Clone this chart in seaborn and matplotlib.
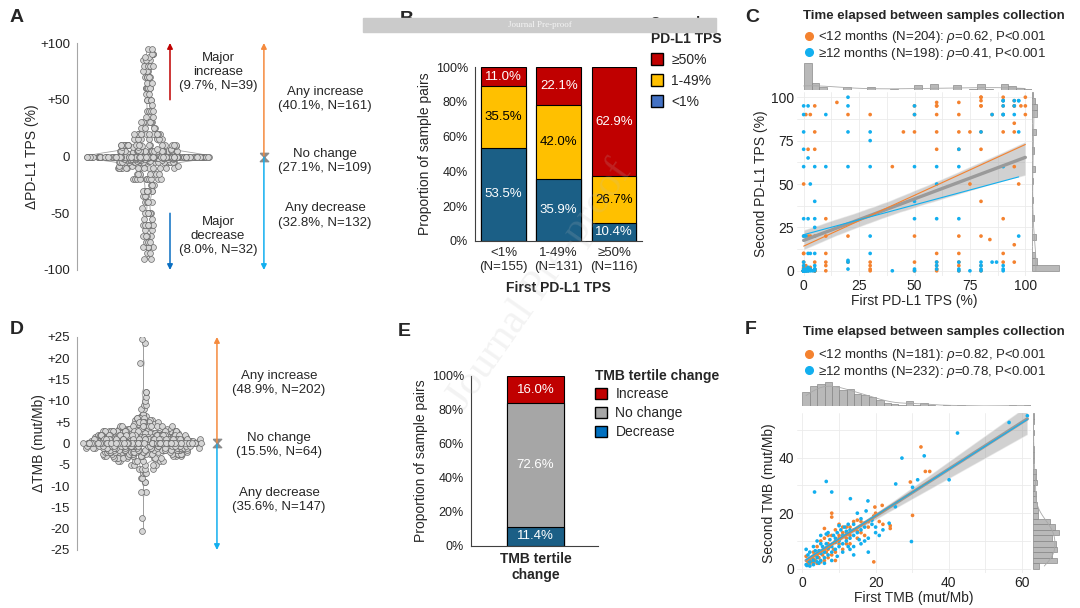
import seaborn as sns
import pandas as pd
import matplotlib.pyplot as plt
import numpy as np
from matplotlib.patches import Patch, Rectangle
from matplotlib.lines import Line2D

sns.set_style('white')
plt.rcParams['font.family'] = ['Liberation Sans', 'DejaVu Sans']
plt.rcParams['mathtext.fontset'] = 'custom'
plt.rcParams['mathtext.it'] = 'Liberation Sans:italic'
plt.rcParams['mathtext.rm'] = 'Liberation Sans'
np.random.seed(7)

# ---------------- data ----------------
# A: change in PD-L1 TPS (value, number of pairs)
tps_delta = [-90, -85, -80, -75, -70, -65, -60, -55, -50,
             -45, -40, -35, -30, -25, -20, -15, -10, -8, -5, -4, -3, -2, -1,
             0,
             1, 2, 3, 4, 5, 6, 7, 8, 9, 10,
             15, 20, 25, 30, 35, 40, 45,
             50, 55, 60, 65, 70, 75, 80, 85, 88, 90, 95]
tps_count = [2, 2, 4, 3, 4, 2, 7, 2, 6,
             1, 4, 3, 8, 4, 10, 7, 14, 3, 18, 3, 5, 8, 12,
             109,
             16, 8, 6, 3, 26, 2, 2, 3, 2, 18,
             7, 12, 4, 6, 2, 4, 1,
             5, 2, 7, 2, 5, 3, 5, 3, 2, 3, 2]

# D: change in TMB (value, number of pairs)
tmb_delta = [-20.5, -17.5, -11.5, -9, -8, -7, -6, -5, -4, -3.5, -3, -2.5, -2, -1.5, -1, -0.5,
             0,
             0.5, 1, 1.5, 2, 2.5, 3, 3.5, 4, 4.5, 5, 5.5, 6, 6.5,
             7, 8, 9, 10, 11, 12, 19, 23.5, 24.5]
tmb_count = [1, 1, 2, 2, 2, 3, 4, 5, 7, 8, 12, 14, 17, 20, 24, 25,
             64,
             28, 30, 25, 22, 18, 16, 12, 10, 8, 7, 5, 5, 3,
             2, 2, 2, 1, 1, 2, 1, 1, 1]

# B: second PD-L1 TPS category by first category (%)
first_cats = ['<1%\n(N=155)', '1-49%\n(N=131)', '\u226550%\n(N=116)']
second_lt1 = [53.5, 35.9, 10.4]
second_mid = [35.5, 42.0, 26.7]
second_ge50 = [11.0, 22.1, 62.9]

# E: TMB tertile change (%)
tmb_cat = ['TMB tertile\nchange']
tmb_decrease = [11.4]
tmb_nochange = [72.6]
tmb_increase = [16.0]

# C: first / second PD-L1 TPS (%)
c_early_first = [15, 20, 20, 20, 30, 30, 30, 30, 30, 40, 45, 50, 50, 50, 50, 50, 50,
                 60, 60, 60, 60, 60, 60, 60, 60, 60, 60, 70, 70, 70, 70, 70, 70, 70, 70, 75,
                 80, 80, 80, 80, 80, 80, 80, 80, 80, 84, 90, 90, 90, 90, 90, 90,
                 95, 95, 95, 95, 95, 95, 97, 100, 0, 0, 0, 0, 0, 0, 0, 1, 2, 2, 3,
                 5, 5, 5, 5, 5, 5, 10, 10, 10, 10, 10, 10, 3, 1, 2, 98,
                 0, 0, 0, 0, 0, 0, 0, 0, 0, 0, 0, 0, 1, 1, 1, 2, 2, 3, 5, 5, 5, 0, 0, 0, 0,
                 80, 90, 95, 100, 90, 85, 70, 60, 75, 95, 100, 80]
c_early_second = [97, 90, 20, 5, 90, 5, 3, 1, 0, 60, 80, 90, 95, 80, 20, 5, 0,
                  97, 95, 90, 80, 70, 10, 5, 3, 1, 0, 97, 80, 70, 20, 10, 5, 3, 0, 50,
                  100, 98, 95, 80, 70, 40, 20, 3, 0, 18, 98, 90, 80, 30, 10, 5,
                  95, 85, 80, 60, 15, 5, 50, 95, 50, 10, 2, 1, 0, 0, 0, 90, 70, 20, 90,
                  95, 80, 70, 20, 5, 0, 30, 20, 10, 5, 3, 0, 20, 3, 1, 95,
                  0, 0, 0, 0, 0, 0, 0, 0, 0, 0, 0, 0, 0, 1, 0, 0, 1, 2, 0, 1, 0, 5, 10, 20, 1,
                  100, 100, 98, 100, 95, 90, 90, 95, 80, 95, 90, 95]
c_late_first = [20, 20, 20, 20, 20, 20, 20, 30, 30, 30, 30, 30, 40, 50, 50, 50, 50, 50, 50, 50,
                60, 60, 60, 60, 60, 70, 70, 70, 70, 70, 75, 80, 80, 80, 80, 85, 87,
                90, 90, 90, 90, 90, 90, 90, 95, 95, 97, 97, 97,
                0, 0, 0, 0, 0, 0, 0, 0, 0, 0, 0, 2, 2, 2, 2, 2, 3, 3,
                5, 5, 5, 5, 5, 5, 5, 10, 10, 1, 1, 4,
                0, 0, 0, 0, 0, 0, 0, 0, 0, 0, 0, 0, 0, 0, 1, 1, 1, 2, 2, 3, 3, 5, 5,
                90, 95, 97, 80, 70, 60, 90, 85]
c_late_second = [100, 95, 80, 60, 6, 5, 1, 80, 75, 60, 20, 10, 0, 95, 90, 60, 40, 30, 1, 0,
                 50, 30, 5, 3, 1, 60, 30, 5, 1, 0, 0, 5, 3, 1, 0, 5, 5,
                 98, 95, 90, 60, 3, 1, 0, 98, 90, 98, 80, 20,
                 95, 90, 80, 70, 60, 30, 20, 5, 3, 1, 0, 95, 65, 30, 10, 0, 50, 10,
                 60, 40, 30, 25, 10, 3, 1, 90, 60, 0, 20, 0,
                 0, 0, 0, 0, 0, 0, 0, 0, 0, 0, 0, 0, 0, 0, 0, 1, 0, 0, 2, 1, 0, 0, 1,
                 90, 95, 98, 80, 70, 60, 98, 90]

# F: first / second TMB (mut/Mb)
f_early_first = [32.4, 33.6, 34.8, 29.5, 30.1, 19.5, 19.8, 21.8, 19.5, 24, 24, 8, 8, 16, 17, 15,
                 14, 13, 12, 11, 10, 9, 8.5, 7.5, 7, 6.5, 6, 5.5, 5, 4.5, 4, 3.5, 3, 2.5, 2,
                 1.5, 1, 2, 3, 4, 5, 6, 7, 9, 10, 11, 12, 13, 14, 18, 20, 22, 17, 15, 13,
                 11, 9, 8, 7, 6, 5, 3, 10, 12, 16, 18, 21, 6, 9, 4, 8, 7, 10, 12, 15]
f_early_second = [43.8, 35, 35, 31.2, 19.2, 19, 22.2, 22.8, 2.5, 14.5, 15.5, 20, 18.6, 17, 16.5, 17.5,
                  14, 12, 11, 13, 9, 10, 7, 8, 9, 6, 7, 5, 6, 4, 5, 3, 3.5, 2.5, 3,
                  2, 4.5, 1.5, 6, 8, 10, 11, 12, 14, 16, 15, 13, 15, 17, 17, 20, 16, 12, 11, 9,
                  7, 6, 5, 4, 3, 2.5, 2, 12, 9, 13, 15, 17, 14.5, 3, 2, 12, 7, 11, 15, 13.5]
f_late_first = [61.5, 56.5, 42.4, 33.3, 27.2, 40.1, 6.5, 31.5, 3.3, 8, 13.1, 17.9, 25.5, 25.4,
                30.1, 29.8, 23.7, 17.4, 15, 16, 14, 13, 12, 11, 10, 9, 8, 7, 6, 5, 4, 3, 2, 1,
                1.5, 2.5, 3.5, 4.5, 5.5, 6.5, 7.5, 8.5, 9.5, 10.5, 11.5, 12.5, 3, 4, 5, 6, 7, 8,
                9, 10, 11, 12, 13, 14, 15, 16, 17, 18, 19, 20, 21, 22, 2, 3, 1, 4, 5, 2, 1.2,
                6, 8, 14, 16, 18, 20, 19, 14, 9.5, 11, 13, 7, 5, 3.5, 12.5, 15.5, 10, 17, 1.5,
                4.5, 6.5, 9]
f_late_second = [55, 52.6, 48.8, 40.6, 39.8, 32, 31.4, 32, 27.6, 27.6, 25.2, 24.4, 30.5, 22.3,
                 29.3, 9.8, 16.4, 20.8, 20, 18, 16, 14, 13.5, 12, 10, 9.5, 8, 7.5, 6, 5.5, 4, 3,
                 2.5, 1.5, 3, 4, 5, 6.5, 8, 9, 10.5, 12, 13, 14, 15, 16, 1.5, 2.5, 3, 4, 5, 6,
                 7, 8, 9, 10, 11, 12, 13, 14, 10, 11, 16, 13, 12, 14, 6, 8, 7, 10, 12, 1, 1.2,
                 2, 3, 8, 9, 6, 15, 17.5, 5, 4.5, 6, 7, 13, 9, 6.5, 8, 10.5, 15.5, 15, 5,
                 2, 12.5, 11]

c_labels = ['<12 months (N=204): $\\it{\u03c1}$=0.62, P<0.001',
            '\u226512 months (N=198): $\\it{\u03c1}$=0.41, P<0.001']
f_labels = ['<12 months (N=181): $\\it{\u03c1}$=0.82, P<0.001',
            '\u226512 months (N=232): $\\it{\u03c1}$=0.78, P<0.001']

RED, YELLOW, DBLUE = '#C00000', '#FFC000', '#1B5F86'
ORANGE, SKY = '#F4822F', '#12AFEF'

fig = plt.figure(figsize=(10.8, 6.08), dpi=100)


def px_axes(l, t, r, b):
    return fig.add_axes([l / 1080, 1 - b / 608, (r - l) / 1080, (b - t) / 608])


def swarm_panel(ax, vals, counts, spread, ylim, yticks, yticklabels, ylabel):
    d = pd.DataFrame({'delta': np.repeat(vals, counts).astype(float)})
    sns.violinplot(y=d['delta'], ax=ax, color='white', linecolor='#a0a0a0', linewidth=0.6,
                   inner=None, cut=0, bw_adjust=0.35, width=0.82, saturation=1)
    d['spread'] = d['delta'].abs().map(spread)
    for j, grp in d.groupby('spread'):
        sns.stripplot(y=grp['delta'], jitter=j, ax=ax, color='#d6d6d6', edgecolor='#6a6a6a',
                      linewidth=0.5, size=4.2)
    ax.set_ylim(*ylim)
    ax.set_yticks(yticks)
    ax.set_yticklabels(yticklabels, fontsize=9.5, color='#222222')
    ax.set_xticks([])
    ax.set_ylabel(ylabel, fontsize=10, labelpad=1)
    for s in ['top', 'right', 'bottom']:
        ax.spines[s].set_visible(False)
    ax.spines['left'].set_color('#a6a6a6')
    ax.tick_params(axis='y', length=3, color='#a6a6a6', pad=2)
    ax.patch.set_alpha(0)


def arrow(ax, x, y0, y1, col):
    ax.annotate('', xy=(x, y1), xytext=(x, y0),
                arrowprops=dict(arrowstyle='-|>', color=col, lw=1.1, mutation_scale=8,
                                shrinkA=0, shrinkB=0))


HOURGLASS = [(-1, 1), (1, 1), (-1, -1), (1, -1), (-1, 1)]

# ---------------- A ----------------
axA = px_axes(77, 43, 380, 270)
swarm_panel(axA, tps_delta, tps_count,
            lambda v: 0.41 if v == 0 else 0.2 if v <= 10 else 0.1 if v <= 20 else 0.05 if v <= 45 else 0.035,
            (-100, 100), [-100, -50, 0, 50, 100], ['-100', '-50', '0', '+50', '+100'],
            '\u0394PD-L1 TPS (%)')
axA.set_xlim(-0.473, 1.547)
arrow(axA, 0.147, 50, 100, RED)
arrow(axA, 0.147, -50, -100, '#0A6FC2')
arrow(axA, 0.773, 1, 100, '#F58A3D')
arrow(axA, 0.773, -1, -100, SKY)
axA.plot(0.773, 0, marker=HOURGLASS, ms=6, color='#8c8c8c', clip_on=False)
kw = dict(ha='center', va='center', fontsize=9.5, linespacing=1.25)
axA.text(0.467, 74.5, 'Major\nincrease\n(9.7%, N=39)', **kw)
axA.text(0.467, -70, 'Major\ndecrease\n(8.0%, N=32)', **kw)
axA.text(1.18, 50.7, 'Any increase\n(40.1%, N=161)', **kw)
axA.text(1.18, -4, 'No change\n(27.1%, N=109)', **kw)
axA.text(1.18, -52, 'Any decrease\n(32.8%, N=132)', **kw)

# ---------------- D ----------------
axD = px_axes(77, 337, 380, 550)
swarm_panel(axD, tmb_delta, tmb_count,
            lambda v: 0.4 if v == 0 else 0.38 if v <= 1 else 0.32 if v <= 2 else 0.27 if v <= 3
            else 0.2 if v <= 4 else 0.1 if v <= 5 else 0.07 if v <= 6 else 0.02,
            (-25, 25), list(range(-25, 26, 5)),
            [f'{t:+d}' if t > 0 else str(t) for t in range(-25, 26, 5)],
            '\u0394TMB (mut/Mb)')
axD.set_xlim(-0.44, 1.58)
arrow(axD, 0.493, 0.3, 25, '#F58A3D')
arrow(axD, 0.493, -0.3, -25, SKY)
axD.plot(0.493, 0, marker=HOURGLASS, ms=6, color='#8c8c8c', clip_on=False)
axD.text(0.907, 14.2, 'Any increase\n(48.9%, N=202)', **kw)
axD.text(0.907, -0.35, 'No change\n(15.5%, N=64)', **kw)
axD.text(0.907, -13.3, 'Any decrease\n(35.6%, N=147)', **kw)


# ---------------- stacked bars B / E ----------------
def stacked(ax, cats, layers, width, xlim):
    cum = np.zeros(len(cats))
    parts = []
    for vals, col, tcol in layers:
        parts.append((cum.copy(), np.array(vals), col, tcol))
        cum = cum + np.array(vals)
    # draw from the tallest cumulative bar down so every segment shows
    for base, vals, col, tcol in parts[::-1]:
        sns.barplot(x=cats, y=base + vals, color=col, saturation=1, width=width, edgecolor='black',
                    linewidth=0.8, errorbar=None, ax=ax)
    for base, vals, col, tcol in parts:
        for i, v in enumerate(vals):
            ax.text(i, base[i] + v / 2, f'{v:.1f}%', ha='center', va='center', fontsize=9.5,
                    color=tcol)
    ax.set_ylim(0, 100)
    ax.set_xlim(*xlim)
    ax.set_yticks(range(0, 101, 20))
    ax.set_yticklabels([f'{t}%' for t in range(0, 101, 20)], fontsize=9, color='#222222')
    ax.set_ylabel('Proportion of sample pairs', fontsize=10, labelpad=3)
    for s in ['top', 'right']:
        ax.spines[s].set_visible(False)
    for s in ['left', 'bottom']:
        ax.spines[s].set_color('#404040')
        ax.spines[s].set_linewidth(0.8)
    ax.tick_params(axis='y', length=3, color='#404040', pad=2)
    ax.tick_params(axis='x', length=0, pad=4)
    ax.patch.set_alpha(0)


axB = px_axes(475, 67, 642, 241)
stacked(axB, first_cats, [(second_lt1, DBLUE, 'white'), (second_mid, YELLOW, 'black'),
                          (second_ge50, RED, 'white')], 0.81, (-0.515, 2.506))
axB.set_xticks(range(3))
axB.set_xticklabels(first_cats, fontsize=9.5, linespacing=1.25)
axB.set_xlabel('First PD-L1 TPS', fontsize=10, fontweight='bold', labelpad=6)
fig.legend(handles=[Patch(fc=RED, ec='black'), Patch(fc=YELLOW, ec='black'), Patch(fc='#4472C4', ec='black')],
           labels=['\u226550%', '1-49%', '<1%'], loc='upper left', bbox_to_anchor=(645 / 1080, 1 - 10 / 608),
           title='Second\nPD-L1 TPS', title_fontproperties={'weight': 'bold', 'size': 10},
           alignment='left', frameon=False, fontsize=10, handlelength=0.9, handleheight=0.9,
           handletextpad=0.6, labelspacing=0.5, borderaxespad=0)

axE = px_axes(471, 376, 598, 546)
stacked(axE, tmb_cat, [(tmb_decrease, DBLUE, 'white'), (tmb_nochange, '#A6A6A6', 'white'),
                       (tmb_increase, RED, 'white')], 0.8, (-0.908, 0.88))
axE.set_xticks([0])
axE.set_xticklabels(tmb_cat, fontsize=10, fontweight='bold', linespacing=1.2)
fig.legend(handles=[Patch(fc=RED, ec='black'), Patch(fc='#A6A6A6', ec='black'), Patch(fc='#0070C0', ec='black')],
           labels=['Increase', 'No change', 'Decrease'], loc='upper left',
           bbox_to_anchor=(589 / 1080, 1 - 363 / 608),
           title='TMB tertile change', title_fontproperties={'weight': 'bold', 'size': 10},
           alignment='left', frameon=False, fontsize=10, handlelength=0.9, handleheight=0.9,
           handletextpad=0.6, labelspacing=0.35, borderaxespad=0)


# ---------------- scatter C / F ----------------
def scatter_panel(box, top_box, right_box, e_first, e_second, l_first, l_second,
                  xlim, ylim, xticks, yticks, minor_x, minor_y, binw, xlabel, ylabel):
    ax = px_axes(*box)
    d = pd.DataFrame({'first': e_first + l_first, 'second': e_second + l_second,
                      'period': ['early'] * len(e_first) + ['late'] * len(l_first)})
    ax.set_xticks(minor_x, minor=True)
    ax.set_yticks(minor_y, minor=True)
    ax.grid(True, which='both', color='#ebebeb', lw=0.6)
    ax.set_axisbelow(True)
    sns.scatterplot(data=d, x='first', y='second', hue='period', palette={'early': ORANGE, 'late': SKY},
                    s=7, linewidth=0, ax=ax, legend=False, zorder=3)
    sns.regplot(data=d, x='first', y='second', scatter=False, color='#9a9a9a', seed=1,
                line_kws={'lw': 2.4, 'zorder': 4}, ax=ax)
    ax.collections[-1].set_alpha(0.45)
    for per, col in [('early', ORANGE), ('late', SKY)]:
        sns.regplot(data=d[d['period'] == per], x='first', y='second', scatter=False, ci=None,
                    color=col, line_kws={'lw': 0.8, 'zorder': 5}, ax=ax)
    ax.set_xlim(*xlim)
    ax.set_ylim(*ylim)
    ax.set_xticks(xticks)
    ax.set_yticks(yticks)
    ax.tick_params(which='both', length=0, labelsize=10, pad=2, labelcolor='#222222')
    ax.set_xlabel(xlabel, fontsize=10, labelpad=1)
    ax.set_ylabel(ylabel, fontsize=10, labelpad=2)
    sns.despine(ax=ax, left=True, bottom=True)

    axt = px_axes(*top_box)
    sns.histplot(x=d['first'], binwidth=binw, binrange=(0, xlim[1]), ax=axt, color='#a8a8a8',
                 edgecolor='#8a8a8a', linewidth=0.5, alpha=0.8, kde=True,
                 line_kws={'lw': 0.6, 'color': '#d0d0d0'})
    axt.set_xlim(*xlim)
    axt.axis('off')
    axr = px_axes(*right_box)
    sns.histplot(y=d['second'], binwidth=binw, binrange=(0, ylim[1]), ax=axr, color='#a8a8a8',
                 edgecolor='#8a8a8a', linewidth=0.5, alpha=0.8, kde=True,
                 line_kws={'lw': 0.6, 'color': '#d0d0d0'})
    axr.set_ylim(*ylim)
    axr.axis('off')
    return ax


scatter_panel((797, 92, 1032, 276), (797, 62, 1032, 90), (1032, 92, 1060, 276),
              c_early_first, c_early_second, c_late_first, c_late_second,
              (-3, 103), (-3, 103), [0, 25, 50, 75, 100], [0, 25, 50, 75, 100],
              [12.5, 37.5, 62.5, 87.5], [12.5, 37.5, 62.5, 87.5], 3.5,
              'First PD-L1 TPS (%)', 'Second PD-L1 TPS (%)')
scatter_panel((797, 413, 1031, 573), (797, 381, 1031, 406), (1033, 413, 1060, 573),
              f_early_first, f_early_second, f_late_first, f_late_second,
              (-1.5, 62.5), (-1.5, 56), [0, 20, 40, 60], [0, 20, 40],
              [10, 30, 50], [10, 30, 50], 2,
              'First TMB (mut/Mb)', 'Second TMB (mut/Mb)')

for title_y, leg_top, labs in [(16, 24, c_labels), (332, 342, f_labels)]:
    fig.text(803 / 1080, 1 - title_y / 608, 'Time elapsed between samples collection',
             fontsize=9.5, fontweight='bold', va='center', ha='left')
    fig.legend(handles=[Line2D([], [], ls='', marker='o', ms=5.5, color=ORANGE),
                        Line2D([], [], ls='', marker='o', ms=5.5, color=SKY)],
               labels=labs, loc='upper left', bbox_to_anchor=(798 / 1080, 1 - leg_top / 608),
               frameon=False, fontsize=9.5, handlelength=0.8, handletextpad=0.3,
               labelspacing=0.05, borderaxespad=0)

# ---------------- panel letters, watermark ----------------
for letter, x, y in [('A', 10, 18), ('B', 400, 20), ('C', 745, 18), ('D', 10, 330), ('E', 398, 332), ('F', 745, 330)]:
    fig.text(x / 1080, 1 - y / 608, letter, fontsize=14, fontweight='bold', va='center', ha='left')

fig.text(540 / 1080, 1 - 285 / 608, 'Journal Pre-proof', rotation=55, fontsize=30,
         family='Liberation Serif', color='#bdbdbd', alpha=0.18, ha='center', va='center', zorder=9)
fig.add_artist(Rectangle((363 / 1080, 1 - 32 / 608), (716 - 363) / 1080, 14 / 608,
                         transform=fig.transFigure, color='#cbcbcb', zorder=10))
fig.text(540 / 1080, 1 - 25 / 608, 'Journal Pre-proof', family='Liberation Serif', fontsize=6.5,
         color='#f4f4f4', ha='center', va='center', zorder=11)

fig.savefig('out.png', dpi=100)
